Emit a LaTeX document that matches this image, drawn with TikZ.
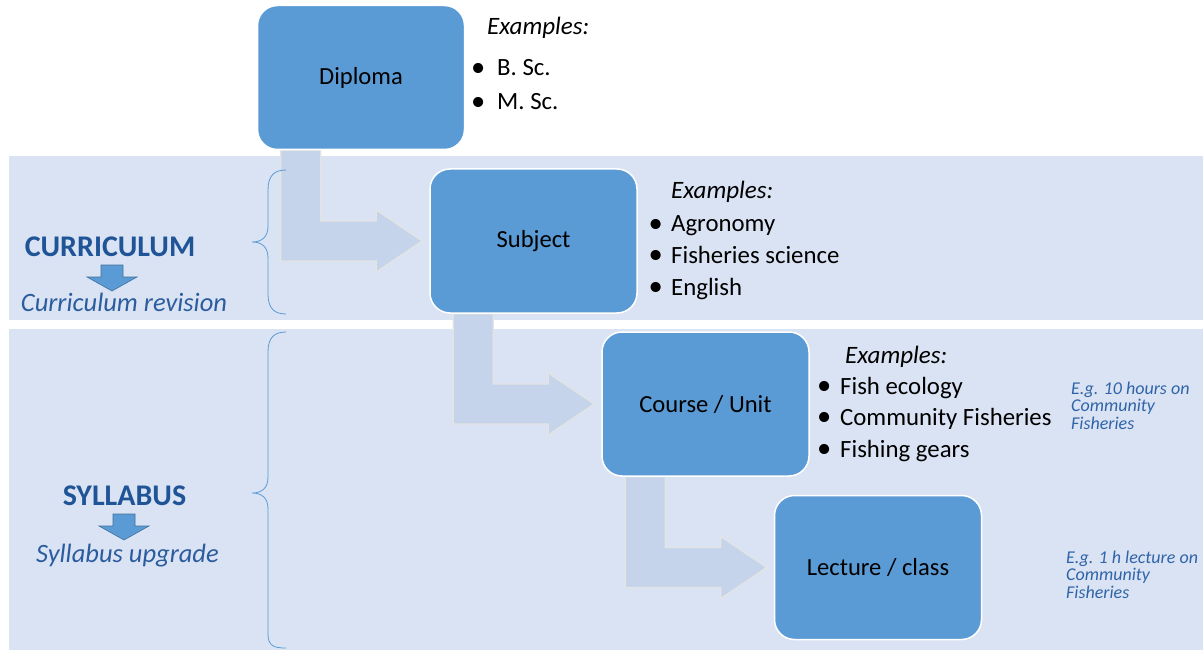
\documentclass[tikz,border=0pt]{standalone}
\usepackage{fontspec}
\setmainfont{Carlito}
\usetikzlibrary{calc,backgrounds}
\definecolor{band}{HTML}{DAE3F3}
\definecolor{boxblue}{HTML}{5B9BD5}
\definecolor{arrowfill}{HTML}{C5D4EA}
\definecolor{arrowline}{HTML}{E4E4E4}
\definecolor{darkblue}{HTML}{1F5496}
\definecolor{midblue}{HTML}{2B5C9E}
\definecolor{noteblue}{HTML}{2F64A8}
\definecolor{arrowedge}{HTML}{41719C}
\newcommand\bentconn[2]{%
  \coordinate (A) at ($(#1.south west)+(24,0)$);
  \coordinate (B) at ($(#1.south west)+(64,0)$);
  \draw[bentarrow] (A) -- (B)
    -- ($(B |- #2.west)+(0,-20)$) -- ($(#2.west)+(-53,-20)$)
    -- ($(#2.west)+(-53,-31)$) -- ($(#2.west)+(-7,0)$)
    -- ($(#2.west)+(-53,31)$) -- ($(#2.west)+(-53,20)$)
    -- ($(A |- #2.west)+(0,20)$) -- cycle;}
\newcommand\bul{\raisebox{-0.9pt}{\scalebox{1.15}{•}}}
\begin{document}
\begin{tikzpicture}[x=1pt,y=-1pt,
  levelbox/.style={draw=white, line width=1.5pt, fill=boxblue, rounded corners=20pt,
    minimum width=207pt, minimum height=144pt, inner sep=0pt,
    font=\fontsize{24.6}{29}\selectfont},
  bentarrow/.style={fill=arrowfill, draw=arrowline, line width=1.3pt, line join=miter},
  exhead/.style={anchor=base west, inner sep=0pt, font=\fontsize{25}{29}\selectfont\itshape},
  exitem/.style={anchor=base west, inner sep=0pt, font=\fontsize{24.8}{29}\selectfont},
  labbold/.style={anchor=base, inner sep=0pt, text=darkblue, font=\fontsize{30}{34}\selectfont\bfseries},
  labital/.style={anchor=base, inner sep=0pt, text=midblue, font=\fontsize{26.5}{30}\selectfont\itshape},
  note/.style={anchor=north west, inner sep=0pt, align=left, text=noteblue,
    font=\fontsize{18}{17.5}\selectfont\itshape},
  bracestyle/.style={draw=boxblue, line width=0.8pt},
  smallarrow/.style={fill=boxblue, draw=arrowedge, line width=0.6pt, line join=miter},
  downarr/.pic={\draw[smallarrow] (-11,0) -- (11,0) -- (11,12) -- (25,12) -- (0,26) -- (-25,12) -- (-11,12) -- cycle;}
]
\useasboundingbox (0,0) rectangle (1203,650);
\begin{scope}[on background layer]
  \fill[white] (0,0) rectangle (1203,650);
  \fill[band] (9,156) rectangle (1203,320);
  \fill[band] (9,329) rectangle (1203,650);
\end{scope}

% level boxes
\node[levelbox] (dip) at (361,77.5) {Diploma};
\node[levelbox] (sub) at (533.5,241) {Subject};
\node[levelbox] (cou) at (705.5,404) {Course / Unit};
\node[levelbox] (lec) at (878,567.5) {Lecture / class};

% bent arrows
\begin{scope}[on background layer]
  \bentconn{dip}{sub}
  \bentconn{sub}{cou}
  \bentconn{cou}{lec}
\end{scope}

% examples
\node[exhead] (dex) at (487,35) {Examples:};
\node[exitem] (d1) at (471,76) {\makebox[26pt][l]{\bul}B. Sc.};
\node[exitem] (d2) at (471,110) {\makebox[26pt][l]{\bul}M. Sc.};

\node[exhead] (sex) at (671,198) {Examples:};
\node[exitem] (s1) at (648.5,232) {\makebox[22.5pt][l]{\bul}Agronomy};
\node[exitem] (s2) at (648.5,263) {\makebox[22.5pt][l]{\bul}Fisheries science};
\node[exitem] (s3) at (648.5,295) {\makebox[22.5pt][l]{\bul}English};

\node[exhead] (cex) at (845,363) {Examples:};
\node[exitem] (c1) at (817,394) {\makebox[23pt][l]{\bul}Fish ecology};
\node[exitem] (c2) at (817,425) {\makebox[23pt][l]{\bul}Community Fisheries};
\node[exitem] (c3) at (817,457) {\makebox[23pt][l]{\bul}Fishing gears};

% notes
\node[note] (n1) at (1071,381.5) {E.g. 10 hours on\\Community\\Fisheries};
\node[note] (n2) at (1066,550.5) {E.g. 1 h lecture on\\Community\\Fisheries};

% braces
\draw[bracestyle] (286,170) .. controls (274,170) and (268,176) .. (268,190)
  -- (268,226) .. controls (268,237) and (262,242) .. (252,242)
  .. controls (262,242) and (268,247) .. (268,258)
  -- (268,294) .. controls (268,308) and (274,314) .. (286,314);
\draw[bracestyle] (286,332) .. controls (274,332) and (268,338) .. (268,352)
  -- (268,477) .. controls (268,488) and (262,493) .. (252,493)
  .. controls (262,493) and (268,498) .. (268,509)
  -- (268,634) .. controls (268,646) and (274,648) .. (286,648);

% left labels
\node[labbold] (cur) at (110,256) {CURRICULUM};
\pic at (112,265) {downarr};
\node[labital] (currev) at (124,311) {Curriculum revision};

\node[labbold] (syl) at (124.5,505) {SYLLABUS};
\pic at (124,514) {downarr};
\node[labital] (sylup) at (127.5,562) {Syllabus upgrade};
\end{tikzpicture}
\end{document}
